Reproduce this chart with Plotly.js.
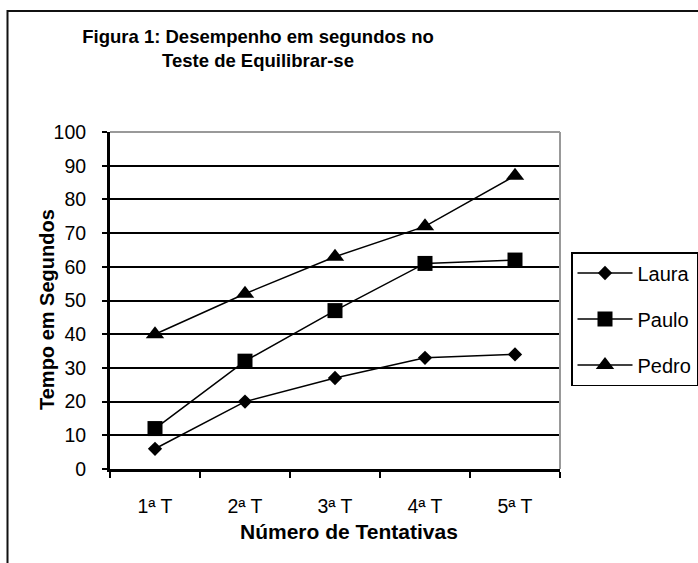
<!DOCTYPE html>
<html>
<head>
<meta charset="utf-8">
<script src="https://cdn.plot.ly/plotly-3.0.1.min.js"></script>
<style>html,body{margin:0;padding:0;background:#fff;}#chart{width:698px;height:563px;}</style>
</head>
<body>
<div id="chart"></div>
<script>
const categories = ["1ª T", "2ª T", "3ª T", "4ª T", "5ª T"];
const laura = [6, 20, 27, 33, 34];
const paulo = [12, 32, 47, 61, 62];
const pedro = [40, 52, 63, 72, 87];
const yTicks = [0, 10, 20, 30, 40, 50, 60, 70, 80, 90, 100];

const FONT = "Liberation Sans, Arial, sans-serif";

function series(name, y, symbol, size) {
  return {
    type: "scatter", mode: "lines+markers", name: name, x: categories, y: y,
    legendgroup: name,
    line: {color: "#000", width: 1.5},
    marker: {symbol: symbol, size: size, color: "#000", line: {width: 0}},
    cliponaxis: false
  };
}

const data = [
  series("Laura", laura, "diamond", 11),
  series("Paulo", paulo, "square", 15),
  series("Pedro", pedro, "triangle-up", 16)
];

const L = 110, R = 138, T = 132, B = 94, W = 698, H = 563;
const pw = W - L - R, ph = H - T - B;
const px = v => (v - L) / pw;
const py = v => (H - B - v) / ph;

const layout = {
  width: W, height: H,
  margin: {l: L, r: R, t: T, b: B, autoexpand: false},
  paper_bgcolor: "#fff", plot_bgcolor: "#fff",
  font: {family: FONT, color: "#000", size: 19},
  title: {
    text: "<b>Figura 1: Desempenho em segundos no<br>Teste de Equilibrar-se</b>",
    font: {family: FONT, size: 18.5, color: "#000"},
    xref: "paper", x: px(258), xanchor: "center",
    yref: "container", y: 1 - 43 / H, yanchor: "middle"
  },
  xaxis: {
    type: "category", range: [-0.5, 4.5],
    showgrid: false, zeroline: false,
    showline: true, linecolor: "#000", linewidth: 3,
    ticks: "outside", tickson: "boundaries", ticklen: 6, tickwidth: 2, tickcolor: "#000",
    ticklabelstandoff: 18,
    tickfont: {family: FONT, size: 19.5, color: "#000"}
  },
  yaxis: {
    range: [0, 100], tickvals: yTicks, ticktext: yTicks.map(String),
    showgrid: true, gridcolor: "#000", gridwidth: 2,
    zeroline: false,
    showline: true, linecolor: "#000", linewidth: 3,
    ticks: "outside", ticklen: 5, tickwidth: 2, tickcolor: "#000",
    ticklabelstandoff: 12,
    tickfont: {family: FONT, size: 19.5, color: "#000"}
  },
  showlegend: true,
  legend: {
    x: px(571), xanchor: "left", xref: "paper",
    y: py(252), yanchor: "top", yref: "paper",
    bordercolor: "#000", borderwidth: 1.5, bgcolor: "#fff",
    font: {family: FONT, size: 20, color: "#000"},
    tracegroupgap: 17, itemwidth: 55,
    traceorder: "grouped"
  },
  annotations: [
    {text: "<b>Tempo em Segundos</b>", xref: "paper", yref: "paper",
     x: px(47), y: py(309), textangle: -90, showarrow: false,
     xanchor: "center", yanchor: "middle",
     font: {family: FONT, size: 20, color: "#000"}},
    {text: "<b>Número de Tentativas</b>", xref: "paper", yref: "paper",
     x: px(349), y: py(531), showarrow: false,
     xanchor: "center", yanchor: "middle",
     font: {family: FONT, size: 21, color: "#000"}}
  ],
  shapes: [
    {type: "line", xref: "paper", yref: "paper", x0: 0, x1: 1, y0: 1, y1: 1,
     line: {color: "#999", width: 2}, layer: "above"},
    {type: "line", xref: "paper", yref: "paper", x0: 1, x1: 1, y0: 0, y1: 1,
     line: {color: "#999", width: 2}, layer: "above"},
    {type: "rect", xref: "paper", yref: "paper",
     x0: px(7.5), x1: px(720), y0: py(11), y1: py(600),
     line: {color: "#111", width: 2}, fillcolor: "rgba(0,0,0,0)", layer: "below"}
  ]
};

Plotly.newPlot("chart", data, layout, {displayModeBar: false, staticPlot: true});
</script>
</body>
</html>
